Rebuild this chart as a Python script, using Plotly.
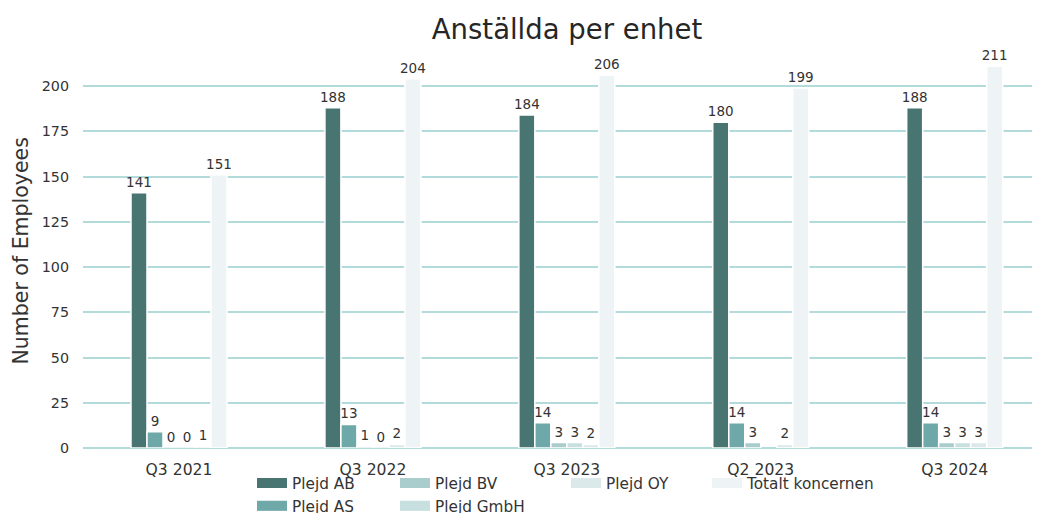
import plotly.graph_objects as go

periods = ["Q3 2021", "Q3 2022", "Q3 2023", "Q2 2023", "Q3 2024"]
series_names = ["Plejd AB", "Plejd AS", "Plejd BV", "Plejd GmbH", "Plejd OY", "Totalt koncernen"]
plejd_ab = [141, 188, 184, 180, 188]
plejd_as = [9, 13, 14, 14, 14]
plejd_bv = [0, 1, 3, 3, 3]
plejd_gmbh = [0, 0, 3, None, 3]
plejd_oy = [1, 2, 2, 2, 3]
totalt = [151, 204, 206, 199, 211]
y_ticks = [0, 25, 50, 75, 100, 125, 150, 175, 200]

series_values = [plejd_ab, plejd_as, plejd_bv, plejd_gmbh, plejd_oy, totalt]
colors = ["#487471", "#6fa8a8", "#a9cccc", "#c8dfdf", "#dce9ea", "#eef4f6"]
legend_ids = ["legend", "legend", "legend2", "legend2", "legend3", "legend4"]

FONT = "DejaVu Sans"
TXT = "#333333"

fig = go.Figure()
for name, vals, col in zip(series_names, series_values, colors):
    fig.add_trace(go.Bar(
        x=periods, y=vals, name=name, showlegend=False, legendgroup=name,
        marker=dict(color=col, line=dict(color="white", width=1.5)),
        texttemplate="%{y}", textposition="outside", constraintext="none",
        cliponaxis=False,
        textfont=dict(family=FONT, size=13.5, color=TXT),
    ))
# legend entries (wide swatches like the reference)
for name, col, lg in zip(series_names, colors, legend_ids):
    fig.add_trace(go.Scatter(
        x=[None], y=[None], mode="lines", name=name, legendgroup=name,
        line=dict(color=col, width=12), legend=lg, hoverinfo="skip",
    ))

# page body has an 8px margin; figure coordinates = screen - 8
W, H = 1032, 505
L, R, T, B = 75, 0, 39, 65
pw = W - L - R
ph = H - T - B

def px_x(p):
    return (p - L) / pw

def px_y(p):
    return (H - B - p) / ph

leg_common = dict(orientation="v", xanchor="left", yanchor="top",
                  bgcolor="rgba(0,0,0,0)", borderwidth=0, tracegroupgap=0,
                  font=dict(family=FONT, size=15.3, color=TXT))
ly = px_y(458.5)

fig.update_layout(
    width=W, height=H,
    margin=dict(l=L, r=R, t=T, b=B, autoexpand=False),
    paper_bgcolor="white", plot_bgcolor="white",
    barmode="group", bargap=0.505, bargroupgap=0,
    font=dict(family=FONT, color=TXT),
    title=dict(text="Anställda per enhet", font=dict(family=FONT, size=27.5, color="#262626"),
               x=559 / W, xanchor="center", xref="container", y=1 - 21 / H, yanchor="middle"),
    legend=dict(x=px_x(244), y=ly, **leg_common),
    legend2=dict(x=px_x(387), y=ly, **leg_common),
    legend3=dict(x=px_x(558), y=ly, **leg_common),
    legend4=dict(x=px_x(699), y=ly, **leg_common),
    xaxis=dict(type="category", categoryorder="array", categoryarray=periods,
               range=[-0.495, 4.44], showgrid=False, showline=False, zeroline=False,
               ticks="", ticklabelstandoff=10, automargin=False,
               tickfont=dict(family=FONT, size=15.6, color=TXT)),
    yaxis=dict(range=[0, 221.6], tickvals=y_ticks, showgrid=True, gridcolor="#b4dbdb",
               gridwidth=2, zeroline=True, zerolinecolor="#b4dbdb", zerolinewidth=2,
               showline=False, ticks="", ticklabelstandoff=13, automargin=False,
               tickfont=dict(family=FONT, size=14.3, color=TXT)),
    annotations=[dict(text="Number of Employees", textangle=-90, showarrow=False,
                      xref="paper", yref="paper", x=px_x(12), y=px_y(243.5),
                      xanchor="center", yanchor="middle",
                      font=dict(family=FONT, size=20.5, color=TXT))],
)

fig.write_html("out.html")
